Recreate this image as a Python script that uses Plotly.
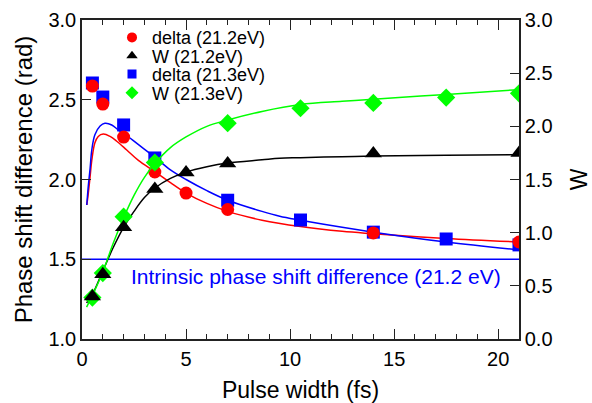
import plotly.graph_objects as go

# ---- data ----
pulse = [0.5, 1, 2, 3.5, 5, 7, 14, 21]
delta_212 = [2.586, 2.473, 2.266, 2.047, 1.915, 1.812, 1.665, 1.608]
W_212 = [0.40, 0.61, 1.05, 1.41, 1.565, 1.65, 1.745, 1.75]

pulse_213 = [0.5, 1, 2, 3.5, 7, 10.5, 14, 17.5, 21]
delta_213 = [2.605, 2.517, 2.342, 2.135, 1.87, 1.746, 1.67, 1.627, 1.59]
W_213 = [0.39, 0.62, 1.15, 1.66, 2.03, 2.17, 2.22, 2.27, 2.31]

# fitted curves
fit_red_x = [0.23, 0.30, 0.39, 0.47, 0.62, 0.78, 1.02, 1.35, 1.67, 2.15, 2.71, 3.5, 4.25, 5.0, 6.0, 7.0, 8.65, 10.5, 12.5, 14.0, 17.5, 21.0]
fit_red_y = [1.84, 1.91, 2.02, 2.12, 2.23, 2.27, 2.285, 2.27, 2.24, 2.185, 2.12, 2.05, 1.98, 1.915, 1.85, 1.80, 1.745, 1.705, 1.675, 1.66, 1.63, 1.608]

fit_blue_x = [0.23, 0.30, 0.39, 0.47, 0.62, 0.87, 1.1, 1.43, 1.75, 2.0, 2.7, 3.5, 4.25, 5.0, 6.0, 7.0, 8.65, 9.5, 10.5, 12.5, 14.0, 17.5, 21.0]
fit_blue_y = [1.84, 1.955, 2.07, 2.185, 2.28, 2.335, 2.352, 2.342, 2.31, 2.29, 2.22, 2.14, 2.06, 2.0, 1.93, 1.87, 1.80, 1.77, 1.745, 1.70, 1.67, 1.608, 1.558]

fit_black_x = [0.22, 0.5, 1.0, 1.5, 2.0, 2.5, 3.0, 3.5, 4.25, 5.0, 6.0, 7.0, 8.65, 9.5, 10.5, 12.5, 14.0, 17.5, 21.0]
fit_black_y = [0.34, 0.42, 0.64, 0.86, 1.05, 1.2, 1.33, 1.42, 1.51, 1.57, 1.62, 1.655, 1.685, 1.70, 1.705, 1.715, 1.72, 1.728, 1.733]

fit_green_x = [0.22, 0.5, 1.0, 1.5, 2.0, 2.5, 3.0, 3.5, 4.25, 5.0, 6.0, 7.0, 8.65, 10.5, 12.5, 14.0, 17.5, 21.0]
fit_green_y = [0.30, 0.41, 0.63, 0.90, 1.14, 1.35, 1.52, 1.65, 1.80, 1.90, 2.0, 2.06, 2.14, 2.205, 2.235, 2.255, 2.30, 2.345]

intrinsic_x = [0, 21]
intrinsic_y = [1.5, 1.5]

x_ticks = [0, 5, 10, 15, 20]
y_ticks = [1.0, 1.5, 2.0, 2.5, 3.0]
y2_ticks = [0.0, 0.5, 1.0, 1.5, 2.0, 2.5, 3.0]

RED = "#ff0000"
BLUE = "#0000ff"
GREEN = "#00ff00"
BLACK = "#000000"
FONT = "Liberation Sans, Arial, sans-serif"

fig = go.Figure()

# intrinsic line
fig.add_trace(go.Scatter(x=intrinsic_x, y=intrinsic_y, mode="lines",
                         line=dict(color=BLUE, width=1.3), showlegend=False, hoverinfo="skip"))
# fit curves
fig.add_trace(go.Scatter(x=fit_red_x, y=fit_red_y, mode="lines", line=dict(color=RED, width=1.5, shape="spline", smoothing=1),
                         showlegend=False))
fig.add_trace(go.Scatter(x=fit_blue_x, y=fit_blue_y, mode="lines", line=dict(color=BLUE, width=1.5, shape="spline", smoothing=1),
                         showlegend=False))
fig.add_trace(go.Scatter(x=fit_black_x, y=fit_black_y, mode="lines", yaxis="y2",
                         line=dict(color=BLACK, width=1.5, shape="spline", smoothing=1), showlegend=False))
fig.add_trace(go.Scatter(x=fit_green_x, y=fit_green_y, mode="lines", yaxis="y2",
                         line=dict(color=GREEN, width=1.5, shape="spline", smoothing=1), showlegend=False))

# markers
fig.add_trace(go.Scatter(x=pulse_213, y=delta_213, mode="markers",
                         marker=dict(symbol="square", size=13, color=BLUE), showlegend=False))
fig.add_trace(go.Scatter(x=pulse_213, y=W_213, mode="markers", yaxis="y2",
                         marker=dict(symbol="diamond", size=14, color=GREEN), showlegend=False))
fig.add_trace(go.Scatter(x=pulse, y=delta_212, mode="markers",
                         marker=dict(symbol="circle", size=13, color=RED), showlegend=False))
fig.add_trace(go.Scatter(x=pulse, y=W_212, mode="markers", yaxis="y2",
                         marker=dict(symbol="triangle-up", size=15, color=BLACK), showlegend=False))

# legend entries (one legend per row)
leg_items = [("delta (21.2eV)", "circle", RED, 10, "legend"),
             ("W (21.2eV)", "triangle-up", BLACK, 10, "legend2"),
             ("delta (21.3eV)", "square", BLUE, 9, "legend3"),
             ("W (21.3eV)", "diamond", GREEN, 10, "legend4")]
for name, sym, col, sz, lg in leg_items:
    fig.add_trace(go.Scatter(x=[None], y=[None], mode="markers", name=name,
                             marker=dict(symbol=sym, size=sz, color=col), legend=lg))

# plot area pixels: x 82..519, y 20..339
def py2paper(py):
    return (339 - py) / 319.0

leg_rows = [37.7, 56.0, 74.3, 93.0]
leg_common = dict(x=(112 - 82) / 437.0, xanchor="left", yanchor="middle",
                  bgcolor="rgba(0,0,0,0)", borderwidth=0,
                  font=dict(family=FONT, size=18, color="#000"), itemsizing="trace")
layout_legends = {}
for i, lg in enumerate(["legend", "legend2", "legend3", "legend4"]):
    layout_legends[lg] = dict(leg_common, y=py2paper(leg_rows[i]))

axis_line = dict(showline=True, linecolor="#222", linewidth=1.5, showgrid=False, zeroline=False)

fig.update_layout(
    width=592, height=403,
    margin=dict(l=82, r=73, t=20, b=64, autoexpand=False),
    paper_bgcolor="white", plot_bgcolor="white",
    font=dict(family=FONT, color="#000", size=18),
    xaxis=dict(range=[0, 21], tickvals=x_ticks, ticks="inside", ticklen=10, tickwidth=1.2, tickcolor="#222",
               mirror="ticks",
               minor=dict(dtick=1, ticks="inside", ticklen=5, tickwidth=1.2, tickcolor="#222"),
               title=dict(text="Pulse width (fs)", font=dict(size=23), standoff=15),
               tickfont=dict(size=20), ticklabelstandoff=1, **axis_line),
    yaxis=dict(range=[1, 3], tickvals=y_ticks, ticktext=[f"{v:.1f}" for v in y_ticks],
               ticks="inside", ticklen=9, tickwidth=1.2, tickcolor="#222",
               title=dict(text="Phase shift difference (rad)", font=dict(size=24), standoff=9),
               tickfont=dict(size=20), **axis_line),
    yaxis2=dict(range=[0, 3], tickvals=y2_ticks, ticktext=[f"{v:.1f}" for v in y2_ticks],
                overlaying="y", side="right", anchor="x",
                ticks="inside", ticklen=9, tickwidth=1.2, tickcolor="#222",
                title=dict(text="W", font=dict(size=23), standoff=22),
                tickfont=dict(size=20), **axis_line),
    annotations=[dict(x=2.25, y=1.39, xref="x", yref="y", xanchor="left", yanchor="middle",
                      text="Intrinsic phase shift difference (21.2 eV)", showarrow=False,
                      font=dict(family=FONT, size=21, color=BLUE))],
    **layout_legends,
)

fig.write_html("out.html")
